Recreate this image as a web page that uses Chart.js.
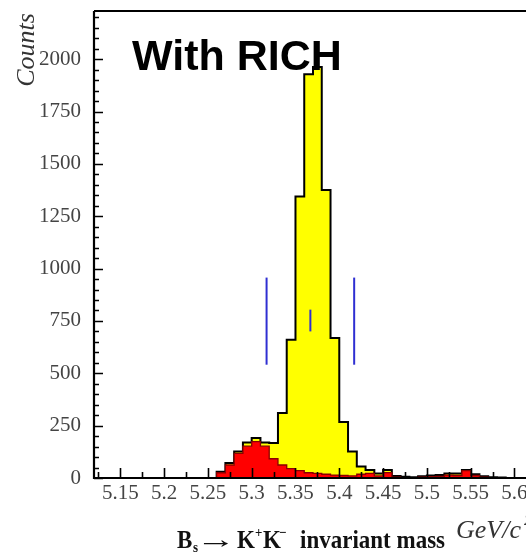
<!DOCTYPE html>
<html>
<head>
<meta charset="utf-8">
<script src="https://cdn.jsdelivr.net/npm/chart.js@4.4.1/dist/chart.umd.min.js"></script>
<style>
  html, body { margin: 0; padding: 0; background: #fff; width: 526px; height: 558px; overflow: hidden; }
  canvas { display: block; }
</style>
</head>
<body>
<canvas id="massPlot" width="540" height="558"></canvas>
<script>
// Histogram bins (GeV/c^2): left edges, plus the last right edge
const binEdges = [
  5.12, 5.13, 5.14, 5.15, 5.16, 5.17, 5.18, 5.19, 5.20, 5.21,
  5.22, 5.23, 5.24, 5.25, 5.26, 5.27, 5.28, 5.29, 5.30, 5.31,
  5.32, 5.33, 5.34, 5.35, 5.36, 5.37, 5.38, 5.39, 5.40, 5.41,
  5.42, 5.43, 5.44, 5.45, 5.46, 5.47, 5.48, 5.49, 5.50, 5.51,
  5.52, 5.53, 5.54, 5.55, 5.56, 5.57, 5.58, 5.59, 5.60, 5.61,
  5.62
];

// All selected candidates (yellow)
const allCounts = [
  0, 0, 0, 0, 0, 0, 0, 0, 0, 0,
  0, 0, 0, 0, 30, 72, 126, 169, 191, 170,
  167, 310, 660, 1344, 1928, 1962, 1375, 668, 268, 126,
  55, 38, 22, 38, 10, 6, 4, 8, 12, 14,
  22, 22, 38, 18, 8, 4, 2, 0, 0, 0
];

// Background contribution (red)
const bkgCounts = [
  0, 0, 0, 0, 0, 0, 0, 0, 0, 0,
  0, 0, 0, 0, 25, 62, 118, 152, 174, 152,
  92, 62, 45, 35, 25, 22, 18, 14, 12, 10,
  18, 22, 10, 26, 4, 2, 2, 4, 6, 8,
  14, 12, 35, 12, 4, 2, 0, 0, 0, 0
];

// Mass window markers (blue)
const windowX = [5.317, 5.367, 5.417];
const windowLow = [541, 700, 541];
const windowHigh = [957, 804, 957];

// Axis labels
const yTickValues = [0, 250, 500, 750, 1000, 1250, 1500, 1750, 2000];
const xTickValues = [5.15, 5.2, 5.25, 5.3, 5.35, 5.4, 5.45, 5.5, 5.55, 5.6];
const yMinorStep = 50;
const xMinorStep = 0.025;

function stepPoints(counts) {
  const pts = counts.map((c, i) => ({ x: binEdges[i], y: c }));
  pts.push({ x: binEdges[counts.length], y: counts[counts.length - 1] });
  return pts;
}

const markerSets = windowX.map((x, i) => ({
  data: [{ x: x, y: windowLow[i] }, { x: x, y: windowHigh[i] }],
  borderColor: '#2f2fd2',
  borderWidth: 2,
  pointRadius: 0,
  fill: false,
  order: -1
}));

// Inside ticks, axis lines and frame, drawn over the histograms
const frameAndTicks = {
  id: 'frameAndTicks',
  afterDatasetsDraw(chart) {
    const { ctx, chartArea: a, scales: { x, y } } = chart;
    ctx.save();
    ctx.strokeStyle = '#000';
    ctx.lineWidth = 1.6;
    ctx.beginPath();
    // y ticks
    for (let v = 0; v <= y.max + 1e-9; v += yMinorStep) {
      const py = Math.round(y.getPixelForValue(v)) + 0.5;
      const len = (v % 250 === 0) ? 9 : 5;
      ctx.moveTo(a.left, py);
      ctx.lineTo(a.left + len, py);
    }
    // x ticks
    const n = Math.round((x.max - x.min) / xMinorStep);
    for (let k = 0; k <= n; k++) {
      const v = 5.125 + k * xMinorStep;
      if (v > x.max) break;
      const px = Math.round(x.getPixelForValue(v)) + 0.5;
      const major = Math.abs(Math.round(v * 20) - v * 20) < 1e-6;
      ctx.moveTo(px, a.bottom);
      ctx.lineTo(px, a.bottom - (major ? 10 : 6));
    }
    ctx.stroke();
    ctx.lineWidth = 2.2;
    ctx.beginPath();
    ctx.moveTo(a.left, a.top);
    ctx.lineTo(a.right + 10, a.top);
    ctx.moveTo(a.left, a.top);
    ctx.lineTo(a.left, a.bottom);
    ctx.lineTo(a.right + 10, a.bottom);
    ctx.stroke();
    ctx.restore();
  },
  afterDraw(chart) {
    const ctx = chart.ctx;
    ctx.save();
    // Panel caption
    ctx.fillStyle = '#000';
    ctx.font = 'bold 43px "Liberation Sans", Arial, sans-serif';
    ctx.textAlign = 'left';
    ctx.textBaseline = 'alphabetic';
    ctx.fillText('With RICH', 132, 70);

    // y axis title
    ctx.save();
    ctx.fillStyle = '#333';
    ctx.font = 'italic 26px "Liberation Serif", serif';
    ctx.translate(34, 50);
    ctx.rotate(-Math.PI / 2);
    ctx.textAlign = 'center';
    ctx.fillText('Counts', 0, 0);
    ctx.restore();

    // x axis unit
    ctx.fillStyle = '#333';
    ctx.font = 'italic 26px "Liberation Serif", serif';
    ctx.fillText('GeV/c', 456, 538);
    ctx.font = 'italic 15px "Liberation Serif", serif';
    ctx.fillText('2', 524, 525);

    // x axis title: B_s -> K+ K- invariant mass
    ctx.save();
    ctx.fillStyle = '#111';
    ctx.translate(0, 548);
    ctx.scale(1, 1.12);
    const big = 'bold 23px "Liberation Serif", serif';
    const small = 'bold 13px "Liberation Serif", serif';
    ctx.font = big;
    ctx.fillText('B', 177, 0);
    ctx.font = small;
    ctx.fillText('s', 193, 4);
    ctx.save();
    ctx.font = big;
    ctx.translate(196, 0);
    ctx.scale(1.75, 1);
    ctx.fillText('\u2192', 0, 0);
    ctx.restore();
    ctx.font = big;
    ctx.fillText('K', 237, 0);
    ctx.font = small;
    ctx.fillText('+', 255, -10);
    ctx.font = big;
    ctx.fillText('K', 263, 0);
    ctx.font = small;
    ctx.fillText('\u2212', 279, -10);
    ctx.font = big;
    ctx.fillText('invariant mass', 300, 0, 147);
    ctx.restore();

    ctx.restore();
  }
};

new Chart(document.getElementById('massPlot'), {
  type: 'line',
  data: {
    datasets: [
      {
        data: stepPoints(bkgCounts),
        stepped: 'before',
        borderColor: '#8a0000',
        borderWidth: 1.3,
        backgroundColor: '#ff0000',
        fill: 'origin',
        pointRadius: 0,
        order: 0
      },
      {
        data: stepPoints(allCounts),
        stepped: 'before',
        borderColor: '#000',
        borderWidth: 2,
        backgroundColor: '#ffff00',
        fill: 'origin',
        pointRadius: 0,
        order: 1
      },
      ...markerSets
    ]
  },
  options: {
    responsive: false,
    animation: false,
    events: [],
    layout: { padding: { top: 11, right: 8, left: 0, bottom: 0 } },
    plugins: { legend: { display: false }, tooltip: { enabled: false } },
    scales: {
      x: {
        type: 'linear',
        min: 5.12,
        max: 5.62,
        grid: { display: false, drawTicks: false },
        border: { display: false },
        afterBuildTicks(scale) { scale.ticks = xTickValues.map(v => ({ value: v })); },
        afterFit(scale) {
          scale.height = 80;
          scale.paddingLeft = 0;
          scale.paddingRight = 0;
        },
        ticks: {
          autoSkip: false,
          maxRotation: 0,
          padding: 3,
          color: '#444',
          font: { family: '"Liberation Serif", serif', size: 21 },
          callback: v => String(Math.round(v * 1000) / 1000)
        }
      },
      y: {
        min: 0,
        max: 2230,
        grid: { display: false, drawTicks: false },
        border: { display: false },
        afterBuildTicks(scale) { scale.ticks = yTickValues.map(v => ({ value: v })); },
        afterFit(scale) {
          scale.width = 94;
          scale.paddingTop = 0;
          scale.paddingBottom = 0;
        },
        ticks: {
          padding: 13,
          color: '#444',
          font: { family: '"Liberation Serif", serif', size: 21 },
          callback: v => String(v)
        }
      }
    }
  },
  plugins: [frameAndTicks]
});
</script>
</body>
</html>
